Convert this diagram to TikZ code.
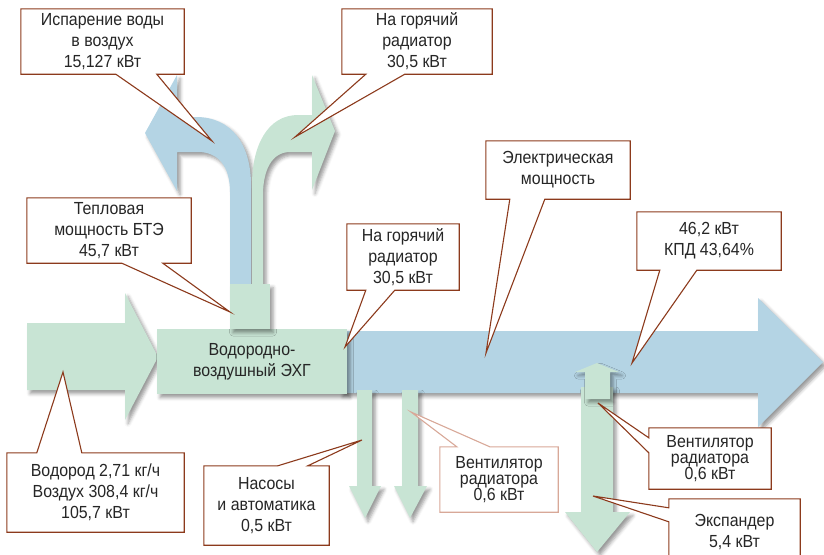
\documentclass[tikz,border=0pt]{standalone}
\usepackage{fontspec}
\setmainfont{Liberation Sans}[FakeStretch=0.91]
\usetikzlibrary{calc,shadows.blur}

\definecolor{flowblue}{HTML}{B4D4E4}
\definecolor{flowgreen}{HTML}{C8E4D4}
\definecolor{notebrown}{HTML}{8C3A1C}
\definecolor{notepale}{HTML}{D8A898}
\definecolor{inkgray}{HTML}{262626}

\tikzset{
  castshadow/.style={blur shadow={shadow xshift=3pt, shadow yshift=-3.5pt,
      shadow blur radius=3.5pt, shadow opacity=40}},
  bluebody/.style={fill=flowblue, castshadow},
  greenbody/.style={fill=flowgreen, castshadow},
  labelfont/.style={font=\fontsize{17.5}{21}\selectfont, text=inkgray},
  note/.style={fill=white, inner sep=0pt, align=center, labelfont},
  tightnote/.style={note, font=\fontsize{17.5}{16}\selectfont},
  noteline/.style={draw=notebrown, line width=1.1pt, line join=miter},
}

% callout frame with its pointer on the lower edge (offsets from the left corner)
\newcommand\noteSouth[4][notebrown]{%
  \fill[white] ($(#2.south west)+(#3,0)$) -- (#2tip) -- ($(#2.south west)+(#4,0)$) -- cycle;
  \draw[noteline, draw=#1] ($(#2.south west)+(#3,0)$) -- (#2.south west) -- (#2.north west)
    -- (#2.north east) -- (#2.south east) -- ($(#2.south west)+(#4,0)$) -- (#2tip) -- cycle;}
% pointer on the upper edge
\newcommand\noteNorth[4][notebrown]{%
  \fill[white] ($(#2.north west)+(#3,0)$) -- (#2tip) -- ($(#2.north west)+(#4,0)$) -- cycle;
  \draw[noteline, draw=#1] ($(#2.north west)+(#3,0)$) -- (#2.north west) -- (#2.south west)
    -- (#2.south east) -- (#2.north east) -- ($(#2.north west)+(#4,0)$) -- (#2tip) -- cycle;}
% pointer on the left edge (offsets down from the upper corner)
\newcommand\noteWest[4][notebrown]{%
  \fill[white] ($(#2.north west)+(0,#3)$) -- (#2tip) -- ($(#2.north west)+(0,#4)$) -- cycle;
  \draw[noteline, draw=#1] ($(#2.north west)+(0,#3)$) -- (#2.north west) -- (#2.north east)
    -- (#2.south east) -- (#2.south west) -- ($(#2.north west)+(0,#4)$) -- (#2tip) -- cycle;}

\begin{document}
\begin{tikzpicture}[x=1pt, y=-1pt]
  \path[use as bounding box] (0,0) rectangle (824,554);
  \clip (0,0) rectangle (824,554);

  % heat outputs: water evaporation (left) and hot radiator (right)
  \path[bluebody] (230,300) -- (230,192) .. controls (230,166) and (218,152) .. (198,152)
    -- (177,152) -- (177,191) -- (145,133) -- (177,75) -- (177,117) -- (196,117)
    .. controls (232,117) and (251,145) .. (251,185) -- (251,300) -- cycle;
  \path[greenbody] (252,300) -- (252,185) .. controls (252,145) and (268,115) .. (298,115)
    -- (312,115) -- (312,75) -- (335,131) -- (312,190) -- (312,152) -- (290,152)
    .. controls (272,152) and (263,170) .. (263,195) -- (263,300) -- cycle;

  % fuel and air input
  \path[greenbody] (27,323) -- (125,323) -- (125,293) -- (158,357) -- (125,420)
    -- (125,390) -- (27,390) -- cycle;

  % electric power output
  \path[bluebody] (340,331) -- (758,331) -- (758,298) -- (823,362) -- (758,427)
    -- (758,393) -- (340,393) -- cycle;

  % auxiliary consumers
  \path[greenbody] (357,390) -- (372,390) -- (372,486) -- (381,486) -- (365,518)
    -- (349,486) -- (357,486) -- cycle;
  \path[greenbody] (402,390) -- (418,390) -- (418,486) -- (427,486) -- (410,518)
    -- (394,486) -- (402,486) -- cycle;
  \path[greenbody] (581,387) -- (613,387) -- (613,512) -- (630,512) -- (597,552)
    -- (565,512) -- (581,512) -- cycle;
  \path[greenbody] (585,399) -- (585,372) -- (575,372) -- (597,363) -- (619,372)
    -- (610,372) -- (610,399) -- cycle;

  % fuel cell generator and its heat outlet
  \node[fill=flowgreen, castshadow, minimum width=190pt, minimum height=65pt,
        inner sep=0pt, align=center, labelfont] (fc) at (252,361.5)
        {Водородно-\\воздушный ЭХГ};
  \node[fill=flowgreen, castshadow, minimum width=40pt, minimum height=45pt,
        inner sep=0pt] (bte) at (250,306.5) {};

  % pointer tips
  \coordinate (evaptip)   at (212,141);
  \coordinate (radtoptip) at (295,137);
  \coordinate (electip)   at (486,353);
  \coordinate (heattip)   at (230,312);
  \coordinate (radmidtip) at (345,347);
  \coordinate (kpdtip)    at (632,363);
  \coordinate (fueltip)   at (63,372);
  \coordinate (pumpstip)  at (362,440);
  \coordinate (fanonetip) at (411,412);
  \coordinate (fantwotip) at (598,403);
  \coordinate (exptip)    at (593,496);

  % callouts
  \node[note, minimum width=163pt, minimum height=65pt] (evap) at (102.5,41.5)
    {Испарение воды\\в воздух\\15,127 кВт};
  \noteSouth{evap}{95}{136}

  \node[note, minimum width=150pt, minimum height=65pt] (radtop) at (417,41.5)
    {На горячий\\радиатор\\30,5 кВт};
  \noteSouth{radtop}{24}{63}

  \node[note, minimum width=144pt, minimum height=58pt] (elec) at (558,170)
    {Электрическая\\мощность};
  \noteSouth{elec}{24}{59}

  \node[note, minimum width=164pt, minimum height=65pt] (heat) at (109,230.5)
    {Тепловая\\мощность БТЭ\\45,7 кВт};
  \noteSouth{heat}{95}{136}

  \node[note, minimum width=112pt, minimum height=66pt] (radmid) at (403,257)
    {На горячий\\радиатор\\30,5 кВт};
  \noteSouth{radmid}{19}{48}

  \node[note, minimum width=144pt, minimum height=58pt] (kpd) at (709,241)
    {46,2 кВт\\КПД 43,64\%};
  \noteSouth{kpd}{23}{60}

  \node[note, minimum width=177pt, minimum height=79pt] (fuel) at (95.5,492.5)
    {Водород 2,71 кг/ч\\Воздух 308,4 кг/ч\\105,7 кВт};
  \noteNorth{fuel}{30}{75}

  \node[note, minimum width=125pt, minimum height=79pt] (pumps) at (266.5,505.5)
    {Насосы\\и автоматика\\0,5 кВт};
  \noteNorth{pumps}{74}{104}

  \node[tightnote, minimum width=118pt, minimum height=65pt] (fanone) at (499,479.5)
    {Вентилятор\\радиатора\\0,6 кВт};
  \noteNorth[notepale]{fanone}{17}{50}

  \node[tightnote, minimum width=122pt, minimum height=61pt] (fantwo) at (710,458.5)
    {Вентилятор\\радиатора\\0,6 кВт};
  \noteWest{fantwo}{10}{25}

  \node[note, minimum width=131pt, minimum height=66pt] (exp) at (734.5,532)
    {Экспандер\\5,4 кВт};
  \noteWest{exp}{9}{23}
\end{tikzpicture}
\end{document}
